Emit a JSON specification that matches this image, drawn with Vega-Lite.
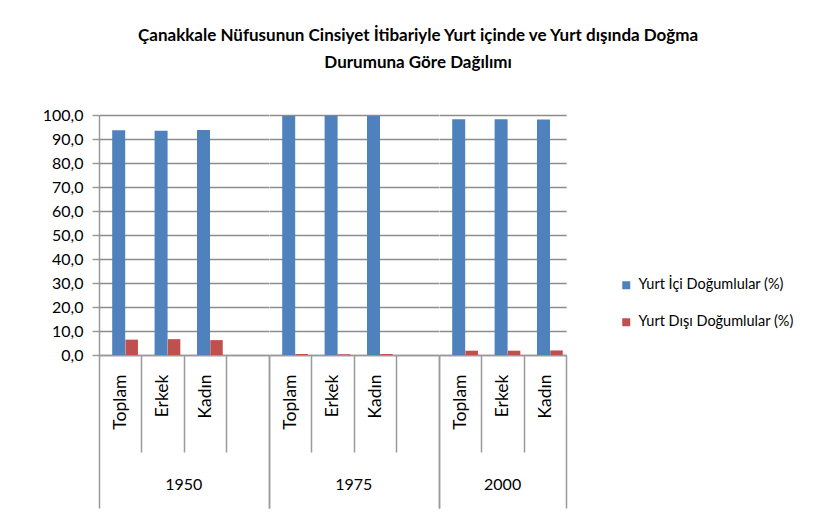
{
  "$schema": "https://vega.github.io/schema/vega-lite/v6.json",
  "background": "white",
  "padding": {"left": 42, "top": 27, "right": 5, "bottom": 5},
  "bounds": "flush",
  "title": {
    "text": ["Çanakkale Nüfusunun Cinsiyet İtibariyle Yurt içinde ve Yurt dışında Doğma", "Durumuna Göre Dağılımı"],
    "font": "Lato",
    "fontSize": 17,
    "fontWeight": "bold",
    "color": "#000000",
    "lineHeight": 27,
    "anchor": "middle",
    "offset": 35
  },
  "data": {
    "values": [
      {"year": "1950", "grp": "Toplam", "ord": 1, "series": "Yurt İçi Doğumlular (%)", "value": 93.6},
      {"year": "1950", "grp": "Toplam", "ord": 1, "series": "Yurt Dışı Doğumlular (%)", "value": 6.4},
      {"year": "1950", "grp": "Erkek", "ord": 2, "series": "Yurt İçi Doğumlular (%)", "value": 93.4},
      {"year": "1950", "grp": "Erkek", "ord": 2, "series": "Yurt Dışı Doğumlular (%)", "value": 6.6},
      {"year": "1950", "grp": "Kadın", "ord": 3, "series": "Yurt İçi Doğumlular (%)", "value": 93.8},
      {"year": "1950", "grp": "Kadın", "ord": 3, "series": "Yurt Dışı Doğumlular (%)", "value": 6.2},
      {"year": "1950", "grp": " ", "ord": 4, "series": "Yurt İçi Doğumlular (%)", "value": null},
      {"year": "1975", "grp": "Toplam", "ord": 1, "series": "Yurt İçi Doğumlular (%)", "value": 99.6},
      {"year": "1975", "grp": "Toplam", "ord": 1, "series": "Yurt Dışı Doğumlular (%)", "value": 0.4},
      {"year": "1975", "grp": "Erkek", "ord": 2, "series": "Yurt İçi Doğumlular (%)", "value": 99.7},
      {"year": "1975", "grp": "Erkek", "ord": 2, "series": "Yurt Dışı Doğumlular (%)", "value": 0.3},
      {"year": "1975", "grp": "Kadın", "ord": 3, "series": "Yurt İçi Doğumlular (%)", "value": 99.6},
      {"year": "1975", "grp": "Kadın", "ord": 3, "series": "Yurt Dışı Doğumlular (%)", "value": 0.4},
      {"year": "1975", "grp": " ", "ord": 4, "series": "Yurt İçi Doğumlular (%)", "value": null},
      {"year": "2000", "grp": "Toplam", "ord": 1, "series": "Yurt İçi Doğumlular (%)", "value": 98.2},
      {"year": "2000", "grp": "Toplam", "ord": 1, "series": "Yurt Dışı Doğumlular (%)", "value": 1.8},
      {"year": "2000", "grp": "Erkek", "ord": 2, "series": "Yurt İçi Doğumlular (%)", "value": 98.2},
      {"year": "2000", "grp": "Erkek", "ord": 2, "series": "Yurt Dışı Doğumlular (%)", "value": 1.8},
      {"year": "2000", "grp": "Kadın", "ord": 3, "series": "Yurt İçi Doğumlular (%)", "value": 98.1},
      {"year": "2000", "grp": "Kadın", "ord": 3, "series": "Yurt Dışı Doğumlular (%)", "value": 1.9}
    ]
  },
  "facet": {
    "column": {
      "field": "year",
      "type": "ordinal",
      "header": {
        "title": null,
        "labelOrient": "bottom",
        "labelFont": "Lato",
        "labelFontSize": 16,
        "labelColor": "#000000",
        "labelBaseline": "middle",
        "labelPadding": 130
      }
    }
  },
  "spacing": 0,
  "resolve": {"scale": {"x": "independent"}},
  "spec": {
    "width": {"step": 42.4, "for": "position"},
    "height": 240,
    "encoding": {
      "x": {
        "field": "grp",
        "type": "nominal",
        "sort": {"field": "ord", "op": "min"},
        "scale": {"paddingInner": 0, "paddingOuter": 0},
        "title": null,
        "axis": {
          "labelAngle": -90,
          "labelAlign": "right",
          "labelBaseline": "middle",
          "labelPadding": {"condition": {"test": "datum.index == 1", "value": -134}, "value": -78},
          "labelFont": "Lato",
          "labelFontSize": 17.5,
          "labelColor": "#000000",
          "tickBand": "extent",
          "tickSize": {"condition": {"test": "datum.index < 0 || datum.index == 1", "value": 153}, "value": 97},
          "tickColor": "#9a9a9a",
          "tickWidth": 1.5,
          "domainColor": "#9a9a9a",
          "domainWidth": 1.5
        }
      },
      "y": {
        "field": "value",
        "type": "quantitative",
        "scale": {"domain": [0, 100]},
        "title": null,
        "axis": {
          "values": [0, 10, 20, 30, 40, 50, 60, 70, 80, 90, 100],
          "labelExpr": "replace(format(datum.value, '.1f'), '.', ',')",
          "labelFont": "Lato",
          "labelFontSize": 16,
          "labelColor": "#000000",
          "labelPadding": 9,
          "tickColor": "#9a9a9a",
          "tickSize": 7,
          "tickWidth": 1.5,
          "domainColor": "#9a9a9a",
          "domainWidth": 1.5,
          "gridColor": "#8c8c8c",
          "gridWidth": 1.5
        }
      },
      "color": {
        "field": "series",
        "type": "nominal",
        "scale": {"domain": ["Yurt İçi Doğumlular (%)", "Yurt Dışı Doğumlular (%)"], "range": ["#4F81BD", "#C0504D"]},
        "legend": {
          "title": null,
          "orient": "none",
          "legendX": 520,
          "legendY": 163,
          "symbolType": "square",
          "symbolSize": 64,
          "symbolStrokeWidth": 0,
          "labelFont": "Lato",
          "labelFontSize": 14.5,
          "labelColor": "#000000",
          "rowPadding": 22,
          "labelOffset": 5
        }
      }
    },
    "layer": [
      {
        "transform": [{"filter": "datum.series == 'Yurt İçi Doğumlular (%)' || datum.value == null"}],
        "mark": {"type": "bar", "width": 13, "xOffset": -1.5, "invalid": "show"}
      },
      {
        "transform": [{"filter": "datum.series == 'Yurt Dışı Doğumlular (%)'"}],
        "mark": {"type": "bar", "width": 12.5, "xOffset": 11.5}
      }
    ]
  },
  "config": {
    "view": {"stroke": null},
    "axis": {"grid": false},
    "axisY": {"grid": true}
  }
}
